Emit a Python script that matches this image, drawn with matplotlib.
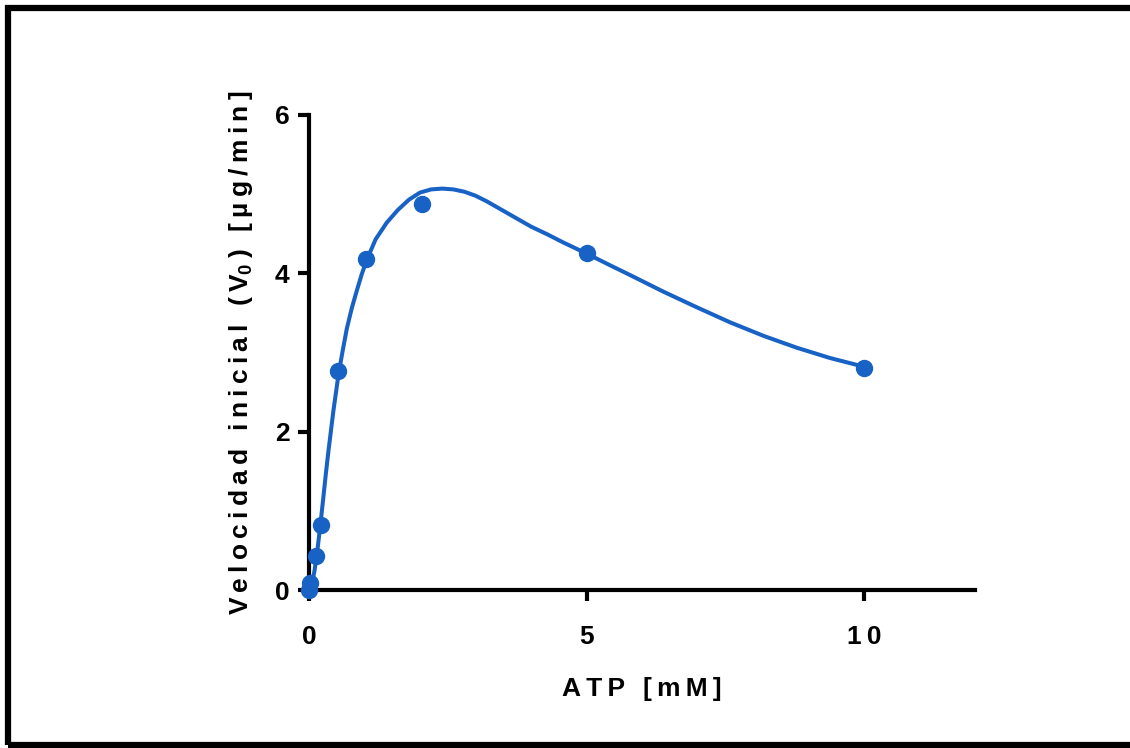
import matplotlib
matplotlib.use('Agg')
import matplotlib.pyplot as plt
from matplotlib.patches import Rectangle

# measured points
atp_mm = [0.0, 0.02, 0.12, 0.22, 0.53, 1.03, 2.03, 5.0, 10.0]
v0 = [0.0, 0.09, 0.43, 0.82, 2.76, 4.18, 4.87, 4.26, 2.81]

# fitted curve
curve_x = [0.0, 0.05, 0.1, 0.15, 0.2, 0.25, 0.3, 0.35, 0.44, 0.53, 0.6, 0.68,
           0.77, 0.86, 0.95, 1.04, 1.2, 1.4, 1.6, 1.8, 2.0, 2.2, 2.4, 2.6,
           2.8, 3.0, 3.2, 3.4, 3.7, 4.0, 4.3, 4.58, 5.0, 5.4, 5.78, 6.38,
           6.99, 7.59, 8.19, 8.79, 9.39, 10.0]
curve_y = [0.0, 0.07, 0.25, 0.5, 0.8, 1.12, 1.45, 1.76, 2.27, 2.72, 3.0, 3.3,
           3.56, 3.78, 3.99, 4.17, 4.43, 4.64, 4.80, 4.93, 5.02, 5.06, 5.07, 5.06,
           5.03, 4.98, 4.91, 4.83, 4.71, 4.59, 4.49, 4.39, 4.25, 4.11, 3.98, 3.77,
           3.57, 3.38, 3.21, 3.06, 2.93, 2.82]

x_ticks = [0, 5, 10]
y_ticks = [0, 2, 4, 6]

blue = '#1762c4'
ts = '\u2009'  # thin space, imitates the wide letter spacing


def spaced(s):
    return ts.join(s)


plt.rcParams['font.family'] = ['Liberation Sans', 'DejaVu Sans']
plt.rcParams['font.weight'] = 'bold'
plt.rcParams['mathtext.fontset'] = 'custom'
plt.rcParams['mathtext.rm'] = 'Liberation Sans:bold'
plt.rcParams['mathtext.it'] = 'Liberation Sans:bold'
plt.rcParams['mathtext.bf'] = 'Liberation Sans:bold'

fig = plt.figure(figsize=(11.3, 7.48), dpi=100)
ax = fig.add_axes([0.2735, 0.2112, 0.5893, 0.6351])

ax.plot(curve_x, curve_y, color=blue, lw=2.9, zorder=3, clip_on=False,
        solid_joinstyle='round')
ax.plot(atp_mm, v0, 'o', color=blue, ms=11.5, zorder=4, clip_on=False)

ax.set_xlim(0, 12)
ax.set_ylim(0, 6)
ax.set_xticks(x_ticks)
ax.set_xticklabels([spaced(str(t)) for t in x_ticks])
ax.set_yticks(y_ticks)

for s in ['top', 'right']:
    ax.spines[s].set_visible(False)
for s in ['left', 'bottom']:
    ax.spines[s].set_linewidth(3)

ax.tick_params(axis='both', width=3, length=8, labelsize=19)
ax.tick_params(axis='x', pad=17)
ax.tick_params(axis='y', pad=6)
for lab in ax.get_xticklabels() + ax.get_yticklabels():
    lab.set_fontweight('bold')

ax.set_xlabel(spaced('ATP') + ts + ' ' + ts + spaced('[mM]'), fontsize=19,
              fontweight='bold', labelpad=20)
ylab = spaced('Velocidad inicial (V') + '$_0$' + ts + spaced(') [µg/min]')
ax.set_ylabel(ylab, fontsize=19, fontweight='bold', labelpad=14)

# outer frame (right edge is cut off in the original)
fig.patches.append(Rectangle((0.0075, 0.004), 1.2, 0.985, transform=fig.transFigure,
                             fill=False, edgecolor='black', lw=4.5))

plt.savefig('out.png', dpi=100)
plt.close()
